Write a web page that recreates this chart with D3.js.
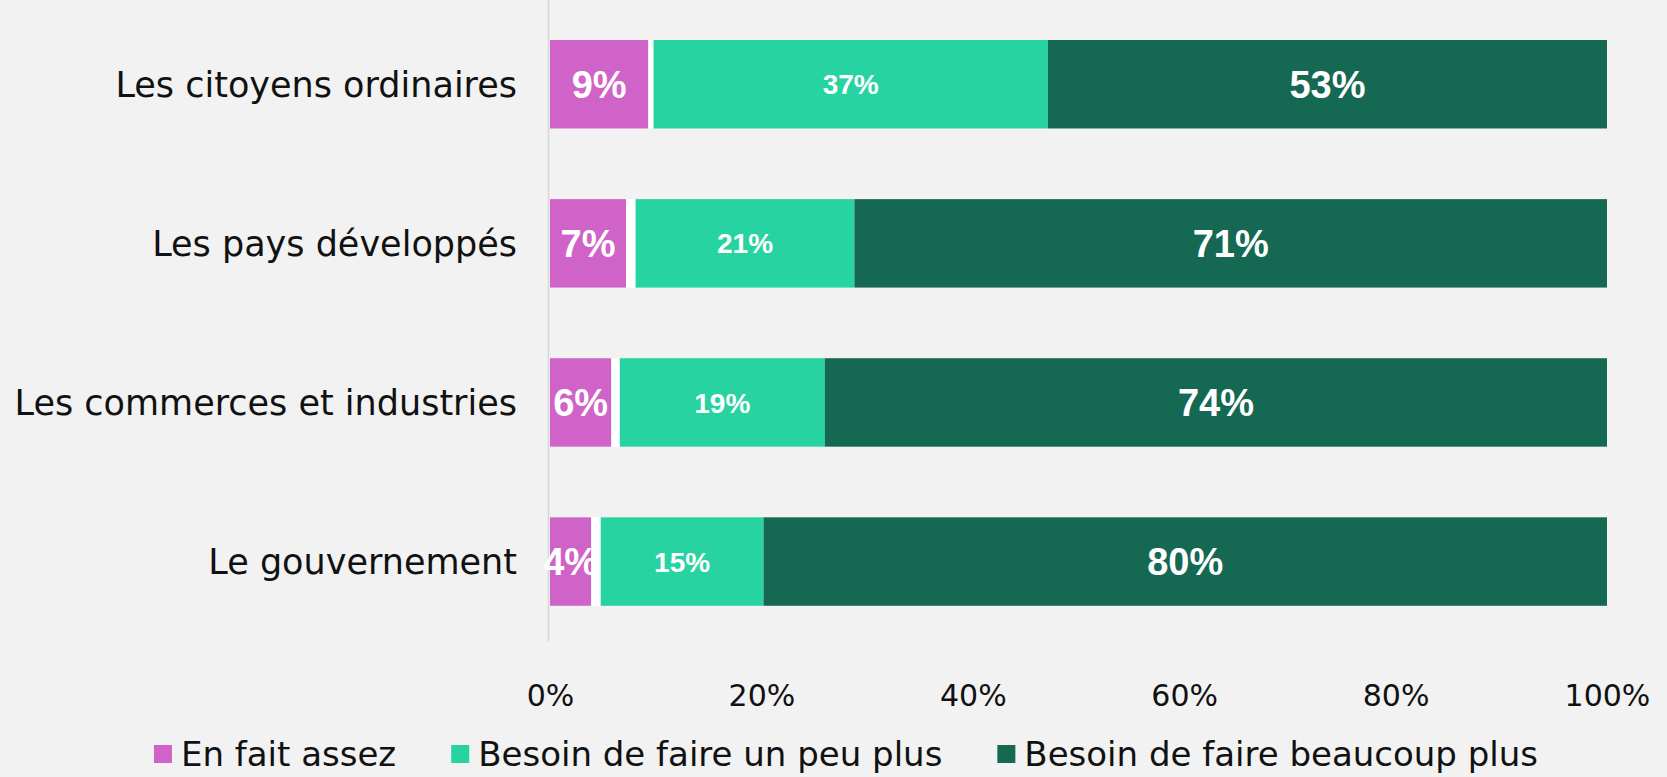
<!DOCTYPE html>
<html>
<head>
<meta charset="utf-8">
<script src="https://cdn.jsdelivr.net/npm/d3@7"></script>
<style>
  html, body { margin: 0; padding: 0; background: #f2f2f2; }
  svg { display: block; }
</style>
</head>
<body>
<svg id="chart" width="1667" height="777"></svg>
<script>
// ---- data ----
const categories = ["Les citoyens ordinaires", "Les pays développés", "Les commerces et industries", "Le gouvernement"];
const enFaitAssez = [9.3, 7.2, 5.8, 3.9];
const sansReponse = [0.5, 0.9, 0.8, 0.9];
const unPeuPlus = [37.3, 20.7, 19.4, 15.4];
const beaucoupPlus = [52.9, 71.2, 74.0, 79.8];
const seriesKeys = ["enFaitAssez", "sansReponse", "unPeuPlus", "beaucoupPlus"];
const legendLabels = ["En fait assez", "Besoin de faire un peu plus", "Besoin de faire beaucoup plus"];
const xTicks = [0, 20, 40, 60, 80, 100];

// ---- styles ----
const colors = { enFaitAssez: "#d063c7", sansReponse: "#ffffff", unPeuPlus: "#26d3a1", beaucoupPlus: "#156953" };
const labelFont = "'DejaVu Sans', sans-serif";
const valueFont = "'Liberation Sans', Arial, sans-serif";

const rows = categories.map((c, i) => ({
  cat: c,
  enFaitAssez: enFaitAssez[i],
  sansReponse: sansReponse[i],
  unPeuPlus: unPeuPlus[i],
  beaucoupPlus: beaucoupPlus[i]
}));

const svg = d3.select("#chart");
const x = d3.scaleLinear().domain([0, 100]).range([550, 1607]);
const y = d3.scaleBand().domain(categories).range([4.7, 641.1]).paddingInner(0.444).paddingOuter(0.222);

const stacked = d3.stack().keys(seriesKeys)(rows);

// axis line
svg.append("line")
  .attr("x1", x(0) - 1.5).attr("x2", x(0) - 1.5)
  .attr("y1", 0).attr("y2", y.range()[1])
  .attr("stroke", "#d6d6d6").attr("stroke-width", 1.5);

// bars
const layers = svg.selectAll("g.layer").data(stacked).join("g")
  .attr("class", "layer")
  .attr("fill", d => colors[d.key]);

layers.selectAll("rect").data(d => d).join("rect")
  .attr("x", d => x(d[0]))
  .attr("y", d => y(d.data.cat))
  .attr("width", d => x(d[1]) - x(d[0]))
  .attr("height", y.bandwidth());

// value labels
const labelSpec = { enFaitAssez: 38, unPeuPlus: 28, beaucoupPlus: 38 };
stacked.filter(s => labelSpec[s.key]).forEach(s => {
  svg.append("g").selectAll("text").data(s).join("text")
    .attr("x", d => (x(d[0]) + x(d[1])) / 2)
    .attr("y", d => y(d.data.cat) + y.bandwidth() / 2)
    .attr("dy", "0.36em")
    .attr("text-anchor", "middle")
    .attr("fill", "#ffffff")
    .attr("font-family", valueFont)
    .attr("font-weight", "bold")
    .attr("font-size", labelSpec[s.key])
    .text(d => Math.round(d.data[s.key]) + "%");
});

// category labels
svg.append("g").selectAll("text").data(categories).join("text")
  .attr("x", x(0) - 33)
  .attr("y", d => y(d) + y.bandwidth() / 2)
  .attr("dy", "0.36em")
  .attr("text-anchor", "end")
  .attr("font-family", labelFont)
  .attr("font-size", 35)
  .attr("fill", "#111")
  .text(d => d);

// x tick labels
const xAxis = d3.axisBottom(x).tickValues(xTicks).tickFormat(d => d + "%").tickSize(0).tickPadding(0);
const gx = svg.append("g").attr("transform", "translate(0,695)").call(xAxis);
gx.select(".domain").remove();
gx.selectAll("text")
  .attr("y", 0).attr("dy", "0.36em")
  .attr("font-family", labelFont)
  .attr("font-size", 30)
  .attr("fill", "#111");

// legend
const legendKeys = ["enFaitAssez", "unPeuPlus", "beaucoupPlus"];
const legend = svg.append("g");
const items = legend.selectAll("g").data(legendKeys).join("g");
items.append("rect")
  .attr("x", 0).attr("y", -9).attr("width", 18).attr("height", 18)
  .attr("fill", d => colors[d]);
items.append("text")
  .attr("x", 27).attr("y", 0).attr("dy", "0.36em")
  .attr("font-family", labelFont)
  .attr("font-size", 34)
  .attr("fill", "#111")
  .text((d, i) => legendLabels[i]);
let cx = 0;
const gap = 55;
items.each(function() {
  const w = this.getBBox().width;
  d3.select(this).attr("transform", `translate(${cx},0)`);
  cx += w + gap;
});
const totalW = cx - gap;
legend.attr("transform", `translate(${846 - totalW / 2},754)`);
</script>
</body>
</html>
